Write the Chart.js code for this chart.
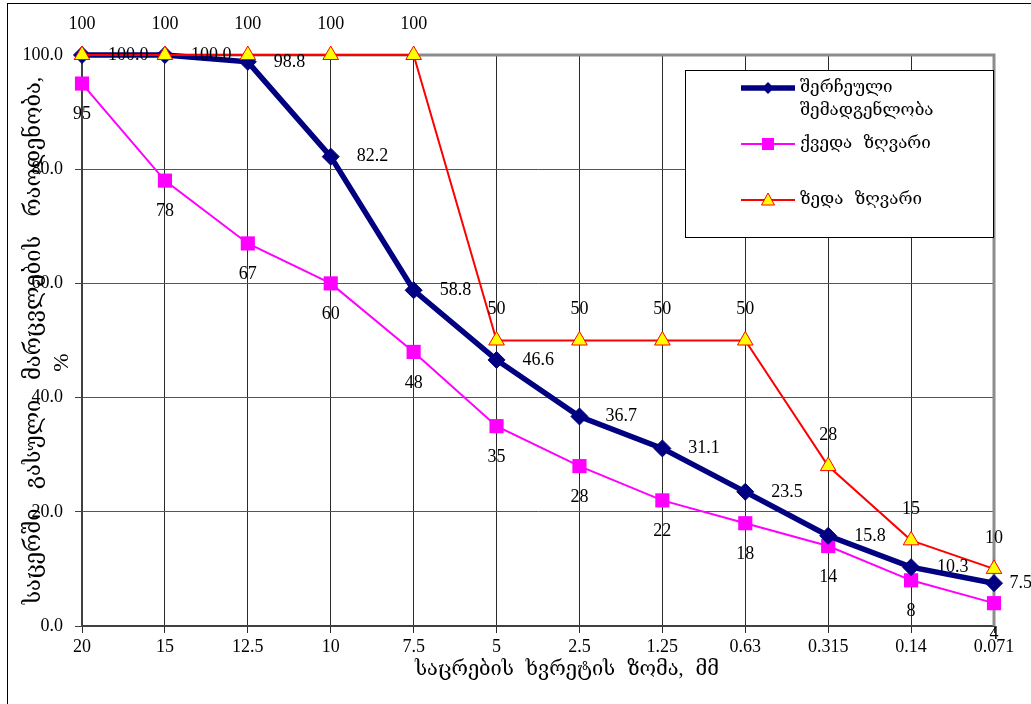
<!DOCTYPE html>
<html>
<head>
<meta charset="utf-8">
<script src="https://cdn.jsdelivr.net/npm/chart.js@4.4.1/dist/chart.umd.min.js"></script>
<style>
html,body{margin:0;padding:0;background:#fff;overflow:hidden}
#wrap{position:relative;width:1031px;height:704px}
</style>
</head>
<body>
<div id="wrap"><canvas id="c" width="1031" height="704"></canvas></div>
<script>
// ---- data ----
const categories = ['20','15','12.5','10','7.5','5','2.5','1.25','0.63','0.315','0.14','0.071'];
const selectedComposition = [100,100,98.8,82.2,58.8,46.6,36.7,31.1,23.5,15.8,10.3,7.5];
const lowerLimit = [95,78,67,60,48,35,28,22,18,14,8,4];
const upperLimit = [100,100,100,100,100,50,50,50,50,28,15,10];
const seriesNames = [['შერჩეული','შემადგენლობა'], ['ქვედა ზღვარი'], ['ზედა ზღვარი']];
const yAxisTitle = ['საცერში გასული მარცვლების რაოდენობა,', '%'];
const xAxisTitle = 'საცრების ხვრეტის ზომა, მმ';
const yMin = 0, yMax = 100, yStep = 20;

const SERIF = "'Liberation Serif','DejaVu Serif','Times New Roman',serif";

const framePlugin = {
  id: 'frame',
  beforeDraw(chart) {
    const ctx = chart.ctx;
    ctx.save();
    ctx.fillStyle = '#fff';
    ctx.fillRect(0, 0, chart.width, chart.height);
    ctx.strokeStyle = '#000';
    ctx.lineWidth = 1;
    ctx.strokeRect(7.5, 3.5, 1200, 900);
    ctx.restore();
    try { ctx.wordSpacing = '7px'; } catch (e) {}
  },
  beforeDatasetsDraw(chart) {
    const {ctx, chartArea: a} = chart;
    ctx.save();
    ctx.strokeStyle = '#8c8c8c';
    ctx.lineWidth = 3;
    ctx.beginPath();
    ctx.moveTo(a.left, a.top);
    ctx.lineTo(a.right, a.top);
    ctx.lineTo(a.right, a.bottom);
    ctx.stroke();
    ctx.restore();
  },
  afterDraw(chart) {
    const {ctx, chartArea: a} = chart;
    ctx.save();
    ctx.fillStyle = '#000';
    ctx.textAlign = 'center';
    ctx.textBaseline = 'middle';
    // x axis title
    ctx.font = '20px ' + SERIF;
    ctx.fillText(xAxisTitle, (a.left + a.right) / 2 + 29, 670);
    // y axis title (rotated)
    ctx.font = '22px ' + SERIF;
    try { ctx.wordSpacing = '14px'; } catch (e) {}
    ctx.translate(34, (a.top + a.bottom) / 2);
    ctx.rotate(-Math.PI / 2);
    ctx.fillText(yAxisTitle[0], 0, 0);
    ctx.fillText(yAxisTitle[1], -22, 28);
    ctx.restore();
    try { ctx.wordSpacing = '7px'; } catch (e) {}
  }
};

const labelPlugin = {
  id: 'pointLabels',
  afterDatasetsDraw(chart) {
    const ctx = chart.ctx;
    ctx.save();
    ctx.font = '18px ' + SERIF;
    ctx.fillStyle = '#000';
    chart.data.datasets.forEach((ds, i) => {
      const meta = chart.getDatasetMeta(i);
      meta.data.forEach((pt, j) => {
        const v = ds.data[j];
        const txt = ds.labelFmt(v);
        if (ds.labelPos === 'right') {
          ctx.textAlign = 'left'; ctx.textBaseline = 'middle';
          const w = ctx.measureText(txt).width;
          ctx.fillText(txt, Math.min(pt.x + 26, chart.width - w + 1), pt.y);
        } else if (ds.labelPos === 'below') {
          ctx.textAlign = 'center'; ctx.textBaseline = 'middle';
          ctx.fillText(txt, pt.x, pt.y + 31);
        } else {
          ctx.textAlign = 'center'; ctx.textBaseline = 'middle';
          ctx.fillText(txt, pt.x, pt.y - 31);
        }
      });
    });
    ctx.restore();
  }
};

const legendPlugin = {
  id: 'boxLegend',
  afterDraw(chart) {
    const ctx = chart.ctx;
    const box = {x: 685.5, y: 70.5, w: 308, h: 167};
    ctx.save();
    ctx.fillStyle = '#fff';
    ctx.fillRect(box.x, box.y, box.w, box.h);
    ctx.strokeStyle = '#000';
    ctx.lineWidth = 1;
    ctx.strokeRect(box.x, box.y, box.w, box.h);
    const rows = [88, 144, 200];
    const x0 = 741, x1 = 795, xm = 768;
    chart.data.datasets.forEach((ds, i) => {
      const y = rows[i];
      ctx.strokeStyle = ds.borderColor;
      ctx.lineWidth = ds.borderWidth;
      ctx.beginPath(); ctx.moveTo(x0, y); ctx.lineTo(x1, y); ctx.stroke();
      ctx.fillStyle = ds.pointBackgroundColor;
      ctx.strokeStyle = ds.pointBorderColor;
      ctx.lineWidth = 1;
      ctx.beginPath();
      if (ds.pointStyle === 'rectRot') {
        ctx.moveTo(xm, y - 6); ctx.lineTo(xm + 6, y); ctx.lineTo(xm, y + 6); ctx.lineTo(xm - 6, y); ctx.closePath();
        ctx.fill();
      } else if (ds.pointStyle === 'rect') {
        ctx.rect(xm - 6, y - 6, 12, 12); ctx.fill();
      } else {
        ctx.moveTo(xm, y - 7); ctx.lineTo(xm + 6.5, y + 5); ctx.lineTo(xm - 6.5, y + 5); ctx.closePath();
        ctx.fill(); ctx.stroke();
      }
      ctx.fillStyle = '#000';
      ctx.font = '17px ' + SERIF;
      ctx.textAlign = 'left';
      ctx.textBaseline = 'middle';
      const lines = seriesNames[i];
      lines.forEach((t, k) => ctx.fillText(t, 800, y + k * 23));
    });
    ctx.restore();
  }
};

new Chart(document.getElementById('c'), {
  type: 'line',
  data: {
    labels: categories,
    datasets: [
      {
        label: seriesNames[0].join(' '),
        data: selectedComposition,
        borderColor: '#000080', backgroundColor: '#000080',
        pointBackgroundColor: '#000080', pointBorderColor: '#000080',
        borderWidth: 5.5, pointStyle: 'rectRot', pointRadius: 8.5, pointBorderWidth: 1,
        tension: 0, clip: false, order: 1,
        labelPos: 'right', labelFmt: v => v.toFixed(1)
      },
      {
        label: seriesNames[1].join(' '),
        data: lowerLimit,
        borderColor: '#FF00FF', backgroundColor: '#FF00FF',
        pointBackgroundColor: '#FF00FF', pointBorderColor: '#FF00FF',
        borderWidth: 2, pointStyle: 'rect', pointRadius: 10, pointBorderWidth: 0,
        tension: 0, clip: false, order: 2,
        labelPos: 'below', labelFmt: v => String(v)
      },
      {
        label: seriesNames[2].join(' '),
        data: upperLimit,
        borderColor: '#FF0000', backgroundColor: '#FFFF00',
        pointBackgroundColor: '#FFFF00', pointBorderColor: '#FF0000',
        borderWidth: 2, pointStyle: 'triangle', pointRadius: 9, pointBorderWidth: 1,
        tension: 0, clip: false, order: 0,
        labelPos: 'above', labelFmt: v => String(v)
      }
    ]
  },
  options: {
    responsive: false,
    animation: false,
    devicePixelRatio: 1,
    layout: {padding: {top: 55, right: 37, left: 0, bottom: 0}},
    plugins: {legend: {display: false}, tooltip: {enabled: false}, title: {display: false}},
    scales: {
      x: {
        type: 'category',
        offset: false,
        afterFit: s => { s.height = 78; },
        grid: {color: '#2a2a2a', lineWidth: 1, drawTicks: true, tickLength: 7, tickColor: '#2a2a2a'},
        border: {color: '#404040', width: 2},
        ticks: {color: '#000', font: {family: SERIF, size: 18}, padding: 3, maxRotation: 0, autoSkip: false},
        title: {display: false}
      },
      y: {
        min: yMin, max: yMax,
        afterFit: s => { s.width = 82; },
        grid: {color: '#555', lineWidth: 1, drawTicks: true, tickLength: 7, tickColor: '#404040'},
        border: {color: '#404040', width: 2},
        ticks: {stepSize: yStep, color: '#000', font: {family: SERIF, size: 18}, padding: 12, callback: v => Number(v).toFixed(1)},
        title: {display: false}
      }
    }
  },
  plugins: [framePlugin, labelPlugin, legendPlugin]
});
</script>
</body>
</html>
